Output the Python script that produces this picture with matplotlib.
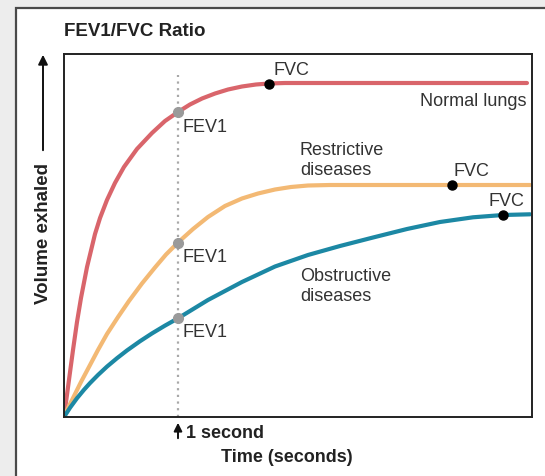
import matplotlib.pyplot as plt
from matplotlib.patches import Rectangle, FancyArrowPatch

plt.rcParams['font.family'] = ['Liberation Sans', 'DejaVu Sans']

# curves: time (s) and volume exhaled (arbitrary units)
normal_t = [0, 0.026, 0.053, 0.079, 0.114, 0.149, 0.202, 0.272, 0.316, 0.377, 0.447, 0.526, 0.640,
            0.772, 0.886, 1.0, 1.105, 1.211, 1.325, 1.439, 1.561, 1.684, 1.798, 1.939, 4.061]
normal_v = [0, 22, 45, 67, 95, 119, 150, 183, 199, 217, 234, 250, 268,
            284, 296, 305, 312.5, 318.5, 323.5, 327.5, 330.5, 332.5, 333.5, 334, 334]

restrict_t = [0, 0.035, 0.088, 0.149, 0.219, 0.298, 0.377, 0.474, 0.570, 0.684, 0.798, 0.895,
              1.0, 1.132, 1.263, 1.412, 1.561, 1.702, 1.851, 1.991, 2.140, 2.333, 3.404, 4.088]
restrict_v = [0, 9, 21, 35, 50, 67, 83, 100, 116, 133.5, 149.5, 162.5,
              174.5, 188, 200, 211, 218.5, 223.5, 227.5, 230, 231.5, 232, 232, 232]

obstruct_t = [0, 0.053, 0.114, 0.175, 0.228, 0.298, 0.377, 0.465, 0.553, 0.667, 0.772, 0.886,
              1.0, 1.263, 1.561, 1.851, 2.140, 2.421, 2.711, 3.009, 3.298, 3.588, 3.851, 4.088]
obstruct_v = [0, 9.3, 18.8, 27.2, 33.9, 42, 50.4, 58.8, 66.6, 75.8, 83.6, 91.4,
              98.7, 117, 135, 150.5, 162, 171, 179.5, 188, 195, 199.7, 202, 202.7]

fev1_t = 1.0
fev1_v = [305, 174.5, 98.7]
fvc_t = [1.798, 3.404, 3.851]
fvc_v = [333.5, 232, 202]

W, H = 545, 476


def fx(x):
    return x / W


def fy(y):
    return 1 - y / H


fig = plt.figure(figsize=(W / 100, H / 100), dpi=100)
fig.patch.set_facecolor('#ededed')
fig.patches.append(Rectangle((fx(16), -0.05), 1.2, fy(8) + 0.05, transform=fig.transFigure,
                             facecolor='white', edgecolor='#4a4a4a', linewidth=1.6, zorder=-10))

ax = fig.add_axes([fx(64), fy(417), fx(532) - fx(64), fy(54) - fy(417)])
ax.set_zorder(5)
ax.set_xlim(0, (532 - 64) / 114)
ax.set_ylim(0, 363)
ax.set_xticks([])
ax.set_yticks([])
for s in ax.spines.values():
    s.set_linewidth(1.4)
    s.set_color('#222222')

ax.plot([fev1_t, fev1_t], [0, 342], color='#a8a8a8', linestyle=(0, (1, 2)), linewidth=1.6, zorder=1)

ax.plot(normal_t, normal_v, color='#d9656b', linewidth=3, solid_capstyle='round', solid_joinstyle='round', zorder=2)
ax.plot(restrict_t, restrict_v, color='#f3b974', linewidth=3, solid_capstyle='round', solid_joinstyle='round', zorder=2)
ax.plot(obstruct_t, obstruct_v, color='#1c88a4', linewidth=3, solid_capstyle='round', solid_joinstyle='round', zorder=2)

ax.plot([fev1_t] * 3, fev1_v, 'o', color='#9a9a9a', markersize=7, zorder=3)
ax.plot(fvc_t, fvc_v, 'o', color='black', markersize=6.5, zorder=3)

fs = 13
for v, dy in zip(fev1_v, [-15, -15, -14]):
    ax.annotate('FEV1', (fev1_t, v), xytext=(4, dy), textcoords='offset pixels',
                fontsize=fs, va='center', ha='left', color='#333333')
for t, v, off in zip(fvc_t, fvc_v, [(5, 13), (1, 14), (-15, 13)]):
    ax.annotate('FVC', (t, v), xytext=off, textcoords='offset pixels',
                fontsize=fs, va='center', ha='left', color='#333333')

ax.text(4.06, 316, 'Normal lungs', fontsize=fs, ha='right', va='center', color='#333333')
ax.text(2.07, 256.5, 'Restrictive\ndiseases', fontsize=fs, ha='left', va='center',
        linespacing=1.2, color='#333333')
ax.text(2.07, 130.5, 'Obstructive\ndiseases', fontsize=fs, ha='left', va='center',
        linespacing=1.2, color='#333333')

fig.text(fx(64), fy(32), 'FEV1/FVC Ratio', fontsize=13.5, fontweight='bold', ha='left', va='center', color='#222222')

# y-axis arrow and label
fig.patches.append(FancyArrowPatch(
    (fx(43), fy(153)), (fx(43), fy(52)), transform=fig.transFigure,
    arrowstyle='-|>', mutation_scale=14, color='#111111', linewidth=1.4))
fig.text(fx(43), fy(234), 'Volume exhaled', fontsize=13.5, fontweight='bold', rotation=90,
         ha='center', va='center', color='#222222')

# x-axis arrow and labels
fig.patches.append(FancyArrowPatch(
    (fx(178), fy(441)), (fx(178), fy(420)), transform=fig.transFigure,
    arrowstyle='-|>', mutation_scale=12, color='#111111', linewidth=1.4))
fig.text(fx(186), fy(433), '1 second', fontsize=13, fontweight='bold', ha='left', va='center', color='#222222')
fig.text(fx(287), fy(457), 'Time (seconds)', fontsize=13, fontweight='bold', ha='center', va='center', color='#222222')

fig.savefig('out.png', dpi=100)
